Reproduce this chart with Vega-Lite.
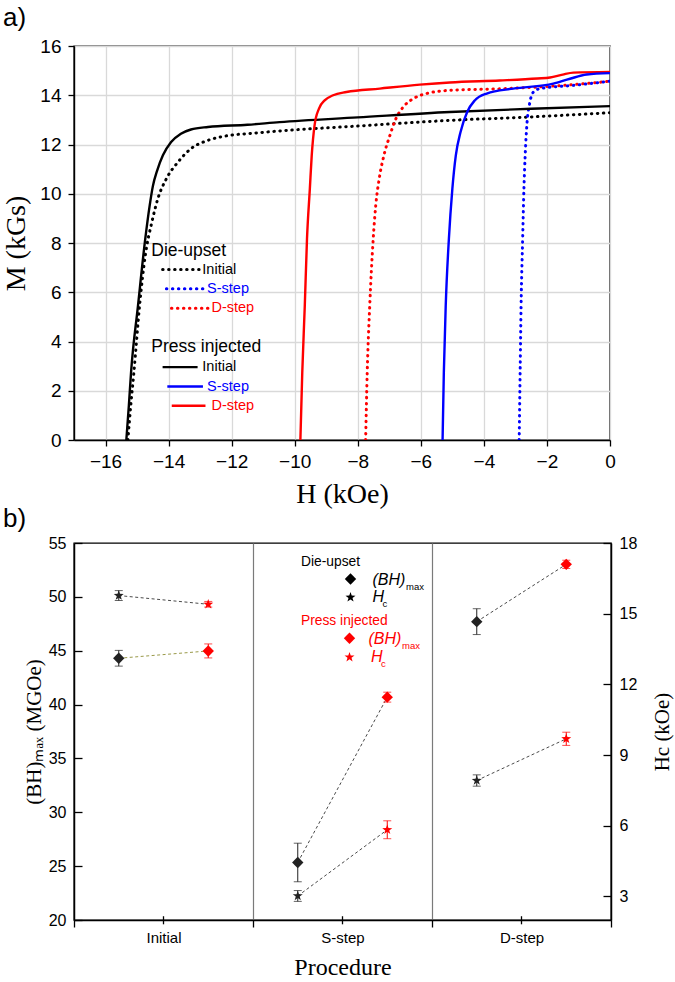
{
  "$schema": "https://vega.github.io/schema/vega-lite/v6.json",
  "background": "white",
  "padding": {"left": 2, "top": 4, "right": 0, "bottom": 0},
  "bounds": "flush",
  "spacing": 103,
  "resolve": {"scale": {"color": "independent"}},
  "config": {
    "view": {"stroke": "black", "strokeWidth": 1.4},
    "axis": {"domainColor": "black", "domainWidth": 1.4, "tickColor": "black", "tickWidth": 1.3, "labelColor": "black", "titleColor": "black", "labelFont": "Liberation Sans", "titleFont": "Liberation Serif", "titleFontWeight": "normal", "labelOverlap": false, "labelFlush": false},
    "title": {"font": "Liberation Sans", "fontWeight": "normal", "color": "black"},
    "text": {"font": "Liberation Sans"}
  },
  "vconcat": [
    {
      "width": 536,
      "height": 394,
      "title": {"text": "a)", "anchor": "start", "frame": "group", "dx": -71, "offset": 6, "fontSize": 26},
      "layer": [
        {
          "data": {"values": [
            {"p": "Die-upset", "s": "Initial", "H": -15.29, "M": 0},
            {"p": "Die-upset", "s": "Initial", "H": -15.2, "M": 1.4},
            {"p": "Die-upset", "s": "Initial", "H": -15.1, "M": 2.75},
            {"p": "Die-upset", "s": "Initial", "H": -14.92, "M": 5.46},
            {"p": "Die-upset", "s": "Initial", "H": -14.74, "M": 7.49},
            {"p": "Die-upset", "s": "Initial", "H": -14.53, "M": 8.85},
            {"p": "Die-upset", "s": "Initial", "H": -14.34, "M": 9.8},
            {"p": "Die-upset", "s": "Initial", "H": -14.07, "M": 10.61},
            {"p": "Die-upset", "s": "Initial", "H": -13.7, "M": 11.29},
            {"p": "Die-upset", "s": "Initial", "H": -13.29, "M": 11.83},
            {"p": "Die-upset", "s": "Initial", "H": -12.75, "M": 12.17},
            {"p": "Die-upset", "s": "Initial", "H": -12.22, "M": 12.34},
            {"p": "Die-upset", "s": "Initial", "H": -11.3, "M": 12.46},
            {"p": "Die-upset", "s": "Initial", "H": -10.48, "M": 12.55},
            {"p": "Die-upset", "s": "Initial", "H": -8, "M": 12.75},
            {"p": "Die-upset", "s": "Initial", "H": -5.08, "M": 12.98},
            {"p": "Die-upset", "s": "Initial", "H": -2.5, "M": 13.12},
            {"p": "Die-upset", "s": "Initial", "H": 0, "M": 13.29},
            {"p": "Press injected", "s": "Initial", "H": -15.34, "M": 0},
            {"p": "Press injected", "s": "Initial", "H": -15.26, "M": 1.4},
            {"p": "Press injected", "s": "Initial", "H": -15.19, "M": 2.75},
            {"p": "Press injected", "s": "Initial", "H": -14.97, "M": 5.46},
            {"p": "Press injected", "s": "Initial", "H": -14.74, "M": 8.17},
            {"p": "Press injected", "s": "Initial", "H": -14.6, "M": 9.52},
            {"p": "Press injected", "s": "Initial", "H": -14.5, "M": 10.3},
            {"p": "Press injected", "s": "Initial", "H": -14.36, "M": 10.95},
            {"p": "Press injected", "s": "Initial", "H": -14.18, "M": 11.56},
            {"p": "Press injected", "s": "Initial", "H": -13.92, "M": 12.1},
            {"p": "Press injected", "s": "Initial", "H": -13.61, "M": 12.44},
            {"p": "Press injected", "s": "Initial", "H": -13.29, "M": 12.61},
            {"p": "Press injected", "s": "Initial", "H": -12.75, "M": 12.71},
            {"p": "Press injected", "s": "Initial", "H": -11.5, "M": 12.8},
            {"p": "Press injected", "s": "Initial", "H": -10.48, "M": 12.91},
            {"p": "Press injected", "s": "Initial", "H": -8, "M": 13.1},
            {"p": "Press injected", "s": "Initial", "H": -5.08, "M": 13.32},
            {"p": "Press injected", "s": "Initial", "H": -2.5, "M": 13.45},
            {"p": "Press injected", "s": "Initial", "H": 0, "M": 13.56},
            {"p": "Press injected", "s": "D-step", "H": -9.82, "M": 0},
            {"p": "Press injected", "s": "D-step", "H": -9.76, "M": 2.75},
            {"p": "Press injected", "s": "D-step", "H": -9.68, "M": 5.46},
            {"p": "Press injected", "s": "D-step", "H": -9.61, "M": 8.17},
            {"p": "Press injected", "s": "D-step", "H": -9.52, "M": 10.2},
            {"p": "Press injected", "s": "D-step", "H": -9.46, "M": 11.56},
            {"p": "Press injected", "s": "D-step", "H": -9.37, "M": 12.78},
            {"p": "Press injected", "s": "D-step", "H": -9.23, "M": 13.46},
            {"p": "Press injected", "s": "D-step", "H": -9.05, "M": 13.79},
            {"p": "Press injected", "s": "D-step", "H": -8.78, "M": 14.0},
            {"p": "Press injected", "s": "D-step", "H": -8.36, "M": 14.13},
            {"p": "Press injected", "s": "D-step", "H": -7.3, "M": 14.27},
            {"p": "Press injected", "s": "D-step", "H": -6.03, "M": 14.43},
            {"p": "Press injected", "s": "D-step", "H": -5.08, "M": 14.52},
            {"p": "Press injected", "s": "D-step", "H": -3.5, "M": 14.6},
            {"p": "Press injected", "s": "D-step", "H": -2.3, "M": 14.68},
            {"p": "Press injected", "s": "D-step", "H": -1.9, "M": 14.72},
            {"p": "Press injected", "s": "D-step", "H": -1.5, "M": 14.84},
            {"p": "Press injected", "s": "D-step", "H": -1.16, "M": 14.92},
            {"p": "Press injected", "s": "D-step", "H": 0, "M": 14.95},
            {"p": "Die-upset", "s": "D-step", "H": -7.75, "M": 0},
            {"p": "Die-upset", "s": "D-step", "H": -7.7, "M": 2.75},
            {"p": "Die-upset", "s": "D-step", "H": -7.62, "M": 5.46},
            {"p": "Die-upset", "s": "D-step", "H": -7.51, "M": 8.17},
            {"p": "Die-upset", "s": "D-step", "H": -7.43, "M": 9.52},
            {"p": "Die-upset", "s": "D-step", "H": -7.32, "M": 10.61},
            {"p": "Die-upset", "s": "D-step", "H": -7.17, "M": 11.56},
            {"p": "Die-upset", "s": "D-step", "H": -6.98, "M": 12.37},
            {"p": "Die-upset", "s": "D-step", "H": -6.79, "M": 13.05},
            {"p": "Die-upset", "s": "D-step", "H": -6.56, "M": 13.52},
            {"p": "Die-upset", "s": "D-step", "H": -6.24, "M": 13.86},
            {"p": "Die-upset", "s": "D-step", "H": -5.82, "M": 14.07},
            {"p": "Die-upset", "s": "D-step", "H": -5.08, "M": 14.2},
            {"p": "Die-upset", "s": "D-step", "H": -3.5, "M": 14.26},
            {"p": "Die-upset", "s": "D-step", "H": -2.22, "M": 14.34},
            {"p": "Die-upset", "s": "D-step", "H": -1, "M": 14.45},
            {"p": "Die-upset", "s": "D-step", "H": 0, "M": 14.57},
            {"p": "Press injected", "s": "S-step", "H": -5.31, "M": 0},
            {"p": "Press injected", "s": "S-step", "H": -5.27, "M": 2.75},
            {"p": "Press injected", "s": "S-step", "H": -5.21, "M": 5.46},
            {"p": "Press injected", "s": "S-step", "H": -5.11, "M": 8.17},
            {"p": "Press injected", "s": "S-step", "H": -5.0, "M": 10.2},
            {"p": "Press injected", "s": "S-step", "H": -4.89, "M": 11.56},
            {"p": "Press injected", "s": "S-step", "H": -4.74, "M": 12.51},
            {"p": "Press injected", "s": "S-step", "H": -4.53, "M": 13.32},
            {"p": "Press injected", "s": "S-step", "H": -4.29, "M": 13.79},
            {"p": "Press injected", "s": "S-step", "H": -3.91, "M": 14.07},
            {"p": "Press injected", "s": "S-step", "H": -3.07, "M": 14.27},
            {"p": "Press injected", "s": "S-step", "H": -1.8, "M": 14.47},
            {"p": "Press injected", "s": "S-step", "H": -1.27, "M": 14.67},
            {"p": "Press injected", "s": "S-step", "H": -0.74, "M": 14.84},
            {"p": "Press injected", "s": "S-step", "H": 0, "M": 14.9},
            {"p": "Die-upset", "s": "S-step", "H": -2.88, "M": 0},
            {"p": "Die-upset", "s": "S-step", "H": -2.85, "M": 2.75},
            {"p": "Die-upset", "s": "S-step", "H": -2.82, "M": 5.46},
            {"p": "Die-upset", "s": "S-step", "H": -2.77, "M": 8.17},
            {"p": "Die-upset", "s": "S-step", "H": -2.73, "M": 10.2},
            {"p": "Die-upset", "s": "S-step", "H": -2.69, "M": 11.56},
            {"p": "Die-upset", "s": "S-step", "H": -2.63, "M": 12.91},
            {"p": "Die-upset", "s": "S-step", "H": -2.56, "M": 13.59},
            {"p": "Die-upset", "s": "S-step", "H": -2.43, "M": 14.13},
            {"p": "Die-upset", "s": "S-step", "H": -2.22, "M": 14.27},
            {"p": "Die-upset", "s": "S-step", "H": -1.17, "M": 14.4},
            {"p": "Die-upset", "s": "S-step", "H": 0, "M": 14.57}
          ]},
          "layer": [
            {
              "transform": [{"filter": "datum.p === 'Die-upset'"}],
              "mark": {"type": "line", "strokeWidth": 3, "strokeDash": [0.5, 5.5], "strokeCap": "round", "interpolate": "monotone", "clip": true},
              "encoding": {
                "x": {"field": "H", "type": "quantitative", "scale": {"domain": [-17, 0], "nice": false, "zero": false},
                  "axis": {"title": "H (kOe)", "titleFontSize": 28, "titlePadding": 9, "values": [-16,-14,-12,-10,-8,-6,-4,-2,0],
                    "labelFontSize": 19, "labelPadding": 6, "tickSize": 6,
                    "grid": true, "gridColor": "#d9d9d9", "gridWidth": 1.3}},
                "y": {"field": "M", "type": "quantitative", "scale": {"domain": [0, 16], "nice": false},
                  "axis": {"title": "M (kGs)", "titleFontSize": 28, "titlePadding": 9, "values": [0,1,2,3,4,5,6,7,8,9,10,11,12,13,14,15,16],
                    "labelExpr": "datum.value % 2 === 0 ? datum.label : ''", "labelFontSize": 19, "labelPadding": 7,
                    "tickSize": {"condition": {"test": "datum.value % 2 === 0", "value": 6}, "value": 3},
                    "grid": true, "gridColor": "#d9d9d9", "gridWidth": 1.3,
                    "gridOpacity": {"condition": {"test": "datum.value % 2 === 0", "value": 1}, "value": 0}}},
                "color": {"field": "s", "type": "nominal",
                  "scale": {"domain": ["Initial", "S-step", "D-step"], "range": ["#000000", "#0000ff", "#ff0000"]}, "legend": null}
              }
            },
            {
              "transform": [{"filter": "datum.p === 'Press injected'"}],
              "mark": {"type": "line", "strokeWidth": 2.4, "interpolate": "monotone", "clip": true},
              "encoding": {
                "x": {"field": "H", "type": "quantitative"},
                "y": {"field": "M", "type": "quantitative"},
                "color": {"field": "s", "type": "nominal", "legend": null}
              }
            }
          ]
        },
        {
          "data": {"values": [{}]},
          "mark": {"type": "text", "text": "Die-upset", "align": "left", "baseline": "middle", "fontSize": 17.5, "color": "black"},
          "encoding": {"x": {"datum": -14.55, "type": "quantitative"}, "y": {"datum": 7.68, "type": "quantitative"}}
        },
        {
          "data": {"values": [{}]},
          "mark": {"type": "rule", "strokeWidth": 3, "strokeDash": [0.5, 5.5], "strokeCap": "round", "color": "#000000"},
          "encoding": {"x": {"datum": -14.19, "type": "quantitative"}, "x2": {"datum": -13.01}, "y": {"datum": 6.92, "type": "quantitative"}}
        },
        {
          "data": {"values": [{}]},
          "mark": {"type": "text", "text": "Initial", "align": "left", "baseline": "middle", "fontSize": 14.5, "color": "#000000"},
          "encoding": {"x": {"datum": -12.93, "type": "quantitative"}, "y": {"datum": 6.92, "type": "quantitative"}}
        },
        {
          "data": {"values": [{}]},
          "mark": {"type": "rule", "strokeWidth": 3, "strokeDash": [0.5, 5.5], "strokeCap": "round", "color": "#0000ff"},
          "encoding": {"x": {"datum": -14.07, "type": "quantitative"}, "x2": {"datum": -12.86}, "y": {"datum": 6.14, "type": "quantitative"}}
        },
        {
          "data": {"values": [{}]},
          "mark": {"type": "text", "text": "S-step", "align": "left", "baseline": "middle", "fontSize": 14.5, "color": "#0000ff"},
          "encoding": {"x": {"datum": -12.78, "type": "quantitative"}, "y": {"datum": 6.14, "type": "quantitative"}}
        },
        {
          "data": {"values": [{}]},
          "mark": {"type": "rule", "strokeWidth": 3, "strokeDash": [0.5, 5.5], "strokeCap": "round", "color": "#ff0000"},
          "encoding": {"x": {"datum": -13.91, "type": "quantitative"}, "x2": {"datum": -12.75}, "y": {"datum": 5.35, "type": "quantitative"}}
        },
        {
          "data": {"values": [{}]},
          "mark": {"type": "text", "text": "D-step", "align": "left", "baseline": "middle", "fontSize": 14.5, "color": "#ff0000"},
          "encoding": {"x": {"datum": -12.64, "type": "quantitative"}, "y": {"datum": 5.35, "type": "quantitative"}}
        },
        {
          "data": {"values": [{}]},
          "mark": {"type": "text", "text": "Press injected", "align": "left", "baseline": "middle", "fontSize": 17.5, "color": "black"},
          "encoding": {"x": {"datum": -14.55, "type": "quantitative"}, "y": {"datum": 3.78, "type": "quantitative"}}
        },
        {
          "data": {"values": [{}]},
          "mark": {"type": "rule", "strokeWidth": 2.4, "color": "#000000"},
          "encoding": {"x": {"datum": -14.19, "type": "quantitative"}, "x2": {"datum": -13.08}, "y": {"datum": 2.96, "type": "quantitative"}}
        },
        {
          "data": {"values": [{}]},
          "mark": {"type": "text", "text": "Initial", "align": "left", "baseline": "middle", "fontSize": 14.5, "color": "#000000"},
          "encoding": {"x": {"datum": -12.93, "type": "quantitative"}, "y": {"datum": 2.96, "type": "quantitative"}}
        },
        {
          "data": {"values": [{}]},
          "mark": {"type": "rule", "strokeWidth": 2.4, "color": "#0000ff"},
          "encoding": {"x": {"datum": -14.04, "type": "quantitative"}, "x2": {"datum": -12.91}, "y": {"datum": 2.17, "type": "quantitative"}}
        },
        {
          "data": {"values": [{}]},
          "mark": {"type": "text", "text": "S-step", "align": "left", "baseline": "middle", "fontSize": 14.5, "color": "#0000ff"},
          "encoding": {"x": {"datum": -12.78, "type": "quantitative"}, "y": {"datum": 2.17, "type": "quantitative"}}
        },
        {
          "data": {"values": [{}]},
          "mark": {"type": "rule", "strokeWidth": 2.4, "color": "#ff0000"},
          "encoding": {"x": {"datum": -13.9, "type": "quantitative"}, "x2": {"datum": -12.83}, "y": {"datum": 1.39, "type": "quantitative"}}
        },
        {
          "data": {"values": [{}]},
          "mark": {"type": "text", "text": "D-step", "align": "left", "baseline": "middle", "fontSize": 14.5, "color": "#ff0000"},
          "encoding": {"x": {"datum": -12.64, "type": "quantitative"}, "y": {"datum": 1.39, "type": "quantitative"}}
        }
      ]
    },
    {
      "width": 537,
      "height": 377,
      "title": {"text": "b)", "anchor": "start", "frame": "group", "dx": -71, "offset": 3, "fontSize": 26},
      "data": {"values": [
        {"proc": "Initial", "process": "Die-upset", "metric": "BH", "value": 44.3, "lo": 43.57, "hi": 45.03},
        {"proc": "Initial", "process": "Press injected", "metric": "BH", "value": 44.98, "lo": 44.33, "hi": 45.63},
        {"proc": "S-step", "process": "Die-upset", "metric": "BH", "value": 25.34, "lo": 23.55, "hi": 27.13},
        {"proc": "S-step", "process": "Press injected", "metric": "BH", "value": 40.69, "lo": 40.23, "hi": 41.15},
        {"proc": "D-step", "process": "Die-upset", "metric": "BH", "value": 47.7, "lo": 46.5, "hi": 48.9},
        {"proc": "D-step", "process": "Press injected", "metric": "BH", "value": 53.02, "lo": 52.63, "hi": 53.4},
        {"proc": "Initial", "process": "Die-upset", "metric": "Hc", "value": 15.77, "lo": 15.56, "hi": 15.98},
        {"proc": "Initial", "process": "Press injected", "metric": "Hc", "value": 15.4, "lo": 15.28, "hi": 15.52},
        {"proc": "S-step", "process": "Die-upset", "metric": "Hc", "value": 3.02, "lo": 2.79, "hi": 3.25},
        {"proc": "S-step", "process": "Press injected", "metric": "Hc", "value": 5.83, "lo": 5.45, "hi": 6.21},
        {"proc": "D-step", "process": "Die-upset", "metric": "Hc", "value": 7.92, "lo": 7.68, "hi": 8.16},
        {"proc": "D-step", "process": "Press injected", "metric": "Hc", "value": 9.69, "lo": 9.41, "hi": 9.97}
      ]},
      "layer": [
        {
          "transform": [{"filter": "datum.metric === 'BH'"}],
          "layer": [
            {
              "mark": {"type": "line", "strokeDash": [3, 2.5], "strokeWidth": 1},
              "encoding": {
                "x": {"field": "proc", "type": "nominal", "sort": ["Initial", "S-step", "D-step"],
                  "scale": {"domain": ["Initial", "S-step", "D-step"], "paddingInner": 0, "paddingOuter": 0},
                  "axis": {"title": "Procedure", "titleFontSize": 24, "titlePadding": 10, "labelAngle": 0, "labelFontSize": 15, "labelPadding": 3,
                    "tickBand": "extent", "tickSize": 7, "grid": true, "gridColor": "#7a7a7a", "gridWidth": 1.2}},
                "xOffset": {"field": "process", "type": "nominal", "scale": {"type": "point", "domain": ["Die-upset", "Press injected"], "padding": 0.5}},
                "y": {"field": "value", "type": "quantitative", "scale": {"domain": [20, 55], "nice": false, "zero": false},
                  "axis": {"title": "(BH)ₘₐₓ (MGOe)", "titleFontSize": 21, "titlePadding": 4,
                    "values": [20, 22.5, 25, 27.5, 30, 32.5, 35, 37.5, 40, 42.5, 45, 47.5, 50, 52.5, 55],
                    "labelExpr": "datum.value % 5 === 0 ? datum.label : ''", "labelFontSize": 16, "labelPadding": 16,
                    "tickSize": {"condition": {"test": "datum.value % 5 === 0", "value": -8}, "value": -4}, "grid": false}},
                "detail": {"field": "proc"},
                "stroke": {"condition": {"test": "datum.proc === 'Initial'", "value": "#9a9a4a"}, "value": "#4a4a4a"}
              }
            },
            {
              "mark": {"type": "rule", "strokeWidth": 1},
              "encoding": {
                "x": {"field": "proc", "type": "nominal"},
                "xOffset": {"field": "process", "type": "nominal"},
                "y": {"field": "lo", "type": "quantitative"},
                "y2": {"field": "hi"},
                "color": {"field": "process", "type": "nominal", "scale": {"domain": ["Die-upset", "Press injected"], "range": ["#222222", "#ff0000"]}, "legend": null}
              }
            },
            {
              "mark": {"type": "tick", "thickness": 1, "size": 8},
              "encoding": {
                "x": {"field": "proc", "type": "nominal"},
                "xOffset": {"field": "process", "type": "nominal"},
                "y": {"field": "lo", "type": "quantitative"},
                "color": {"field": "process", "type": "nominal", "legend": null}
              }
            },
            {
              "mark": {"type": "tick", "thickness": 1, "size": 8},
              "encoding": {
                "x": {"field": "proc", "type": "nominal"},
                "xOffset": {"field": "process", "type": "nominal"},
                "y": {"field": "hi", "type": "quantitative"},
                "color": {"field": "process", "type": "nominal", "legend": null}
              }
            },
            {
              "mark": {"type": "point", "shape": "diamond", "filled": true, "size": 130, "opacity": 1},
              "encoding": {
                "x": {"field": "proc", "type": "nominal"},
                "xOffset": {"field": "process", "type": "nominal"},
                "y": {"field": "value", "type": "quantitative"},
                "color": {"field": "process", "type": "nominal", "legend": null}
              }
            },
            {
              "data": {"values": [{"proc": "Initial"}, {"proc": "S-step"}, {"proc": "D-step"}]},
              "mark": {"type": "rule", "strokeWidth": 1.3, "color": "black"},
              "encoding": {
                "x": {"field": "proc", "type": "nominal"},
                "y": {"datum": 20.35, "type": "quantitative"},
                "y2": {"datum": 19.6}
              }
            },
            {
              "data": {"values": [{}]},
              "mark": {"type": "text", "text": "Die-upset", "align": "left", "baseline": "middle", "dx": -41.5, "fontSize": 13.8, "color": "black"},
              "encoding": {"x": {"datum": "S-step", "type": "nominal"}, "y": {"datum": 53.24, "type": "quantitative"}}
            },
            {
              "data": {"values": [{}]},
              "mark": {"type": "point", "shape": "diamond", "filled": true, "size": 130, "opacity": 1, "color": "black", "xOffset": 8},
              "encoding": {"x": {"datum": "S-step", "type": "nominal"}, "y": {"datum": 51.66, "type": "quantitative"}}
            },
            {
              "data": {"values": [{}]},
              "mark": {"type": "text", "text": "(BH)", "align": "left", "baseline": "middle", "dx": 30, "fontSize": 16, "fontStyle": "italic", "color": "black"},
              "encoding": {"x": {"datum": "S-step", "type": "nominal"}, "y": {"datum": 51.6, "type": "quantitative"}}
            },
            {
              "data": {"values": [{}]},
              "mark": {"type": "text", "text": "max", "align": "left", "baseline": "middle", "dx": 63.5, "dy": 7, "fontSize": 9.5, "color": "black"},
              "encoding": {"x": {"datum": "S-step", "type": "nominal"}, "y": {"datum": 51.6, "type": "quantitative"}}
            },
            {
              "data": {"values": [{}]},
              "mark": {"type": "point", "shape": "M0,-1L0.2351,-0.3236L0.9511,-0.309L0.3804,0.1236L0.5878,0.809L0,0.4L-0.5878,0.809L-0.3804,0.1236L-0.9511,-0.309L-0.2351,-0.3236Z", "filled": true, "size": 110, "opacity": 1, "color": "black", "xOffset": 8},
              "encoding": {"x": {"datum": "S-step", "type": "nominal"}, "y": {"datum": 49.96, "type": "quantitative"}}
            },
            {
              "data": {"values": [{}]},
              "mark": {"type": "text", "text": "H", "align": "left", "baseline": "middle", "dx": 30, "fontSize": 16, "fontStyle": "italic", "color": "black"},
              "encoding": {"x": {"datum": "S-step", "type": "nominal"}, "y": {"datum": 50.0, "type": "quantitative"}}
            },
            {
              "data": {"values": [{}]},
              "mark": {"type": "text", "text": "c", "align": "left", "baseline": "middle", "dx": 40, "dy": 7, "fontSize": 9.5, "color": "black"},
              "encoding": {"x": {"datum": "S-step", "type": "nominal"}, "y": {"datum": 50.0, "type": "quantitative"}}
            },
            {
              "data": {"values": [{}]},
              "mark": {"type": "text", "text": "Press injected", "align": "left", "baseline": "middle", "dx": -41.5, "fontSize": 13.8, "color": "#ff0000"},
              "encoding": {"x": {"datum": "S-step", "type": "nominal"}, "y": {"datum": 47.79, "type": "quantitative"}}
            },
            {
              "data": {"values": [{}]},
              "mark": {"type": "point", "shape": "diamond", "filled": true, "size": 130, "opacity": 1, "color": "#ff0000", "xOffset": 7},
              "encoding": {"x": {"datum": "S-step", "type": "nominal"}, "y": {"datum": 46.16, "type": "quantitative"}}
            },
            {
              "data": {"values": [{}]},
              "mark": {"type": "text", "text": "(BH)", "align": "left", "baseline": "middle", "dx": 26, "fontSize": 16, "fontStyle": "italic", "color": "#ff0000"},
              "encoding": {"x": {"datum": "S-step", "type": "nominal"}, "y": {"datum": 46.1, "type": "quantitative"}}
            },
            {
              "data": {"values": [{}]},
              "mark": {"type": "text", "text": "max", "align": "left", "baseline": "middle", "dx": 59.5, "dy": 7, "fontSize": 9.5, "color": "#ff0000"},
              "encoding": {"x": {"datum": "S-step", "type": "nominal"}, "y": {"datum": 46.1, "type": "quantitative"}}
            },
            {
              "data": {"values": [{}]},
              "mark": {"type": "point", "shape": "M0,-1L0.2351,-0.3236L0.9511,-0.309L0.3804,0.1236L0.5878,0.809L0,0.4L-0.5878,0.809L-0.3804,0.1236L-0.9511,-0.309L-0.2351,-0.3236Z", "filled": true, "size": 110, "opacity": 1, "color": "#ff0000", "xOffset": 7},
              "encoding": {"x": {"datum": "S-step", "type": "nominal"}, "y": {"datum": 44.4, "type": "quantitative"}}
            },
            {
              "data": {"values": [{}]},
              "mark": {"type": "text", "text": "H", "align": "left", "baseline": "middle", "dx": 28.5, "fontSize": 16, "fontStyle": "italic", "color": "#ff0000"},
              "encoding": {"x": {"datum": "S-step", "type": "nominal"}, "y": {"datum": 44.4, "type": "quantitative"}}
            },
            {
              "data": {"values": [{}]},
              "mark": {"type": "text", "text": "c", "align": "left", "baseline": "middle", "dx": 38.5, "dy": 7, "fontSize": 9.5, "color": "#ff0000"},
              "encoding": {"x": {"datum": "S-step", "type": "nominal"}, "y": {"datum": 44.4, "type": "quantitative"}}
            }
          ]
        },
        {
          "transform": [{"filter": "datum.metric === 'Hc'"}],
          "layer": [
            {
              "mark": {"type": "line", "strokeDash": [3, 2.5], "strokeWidth": 1, "color": "#4a4a4a"},
              "encoding": {
                "x": {"field": "proc", "type": "nominal"},
                "xOffset": {"field": "process", "type": "nominal"},
                "y": {"field": "value", "type": "quantitative", "scale": {"domain": [2, 18], "nice": false, "zero": false},
                  "axis": {"orient": "right", "title": "Hc (kOe)", "titleFontSize": 21, "titleAngle": 270, "titlePadding": 36,
                    "values": [3, 4.5, 6, 7.5, 9, 10.5, 12, 13.5, 15, 16.5, 18],
                    "labelExpr": "datum.value % 3 === 0 ? datum.label : ''", "labelFontSize": 16, "labelPadding": 16,
                    "tickSize": {"condition": {"test": "datum.value % 3 === 0", "value": -8}, "value": -4}, "grid": false}},
                "detail": {"field": "proc"}
              }
            },
            {
              "mark": {"type": "rule", "strokeWidth": 1},
              "encoding": {
                "x": {"field": "proc", "type": "nominal"},
                "xOffset": {"field": "process", "type": "nominal"},
                "y": {"field": "lo", "type": "quantitative"},
                "y2": {"field": "hi"},
                "color": {"field": "process", "type": "nominal", "legend": null}
              }
            },
            {
              "mark": {"type": "tick", "thickness": 1, "size": 8},
              "encoding": {
                "x": {"field": "proc", "type": "nominal"},
                "xOffset": {"field": "process", "type": "nominal"},
                "y": {"field": "lo", "type": "quantitative"},
                "color": {"field": "process", "type": "nominal", "legend": null}
              }
            },
            {
              "mark": {"type": "tick", "thickness": 1, "size": 8},
              "encoding": {
                "x": {"field": "proc", "type": "nominal"},
                "xOffset": {"field": "process", "type": "nominal"},
                "y": {"field": "hi", "type": "quantitative"},
                "color": {"field": "process", "type": "nominal", "legend": null}
              }
            },
            {
              "mark": {"type": "point", "shape": "M0,-1L0.2351,-0.3236L0.9511,-0.309L0.3804,0.1236L0.5878,0.809L0,0.4L-0.5878,0.809L-0.3804,0.1236L-0.9511,-0.309L-0.2351,-0.3236Z", "filled": true, "size": 110, "opacity": 1},
              "encoding": {
                "x": {"field": "proc", "type": "nominal"},
                "xOffset": {"field": "process", "type": "nominal"},
                "y": {"field": "value", "type": "quantitative"},
                "color": {"field": "process", "type": "nominal", "legend": null}
              }
            }
          ]
        }
      ],
      "resolve": {"scale": {"y": "independent"}}
    }
  ]
}
